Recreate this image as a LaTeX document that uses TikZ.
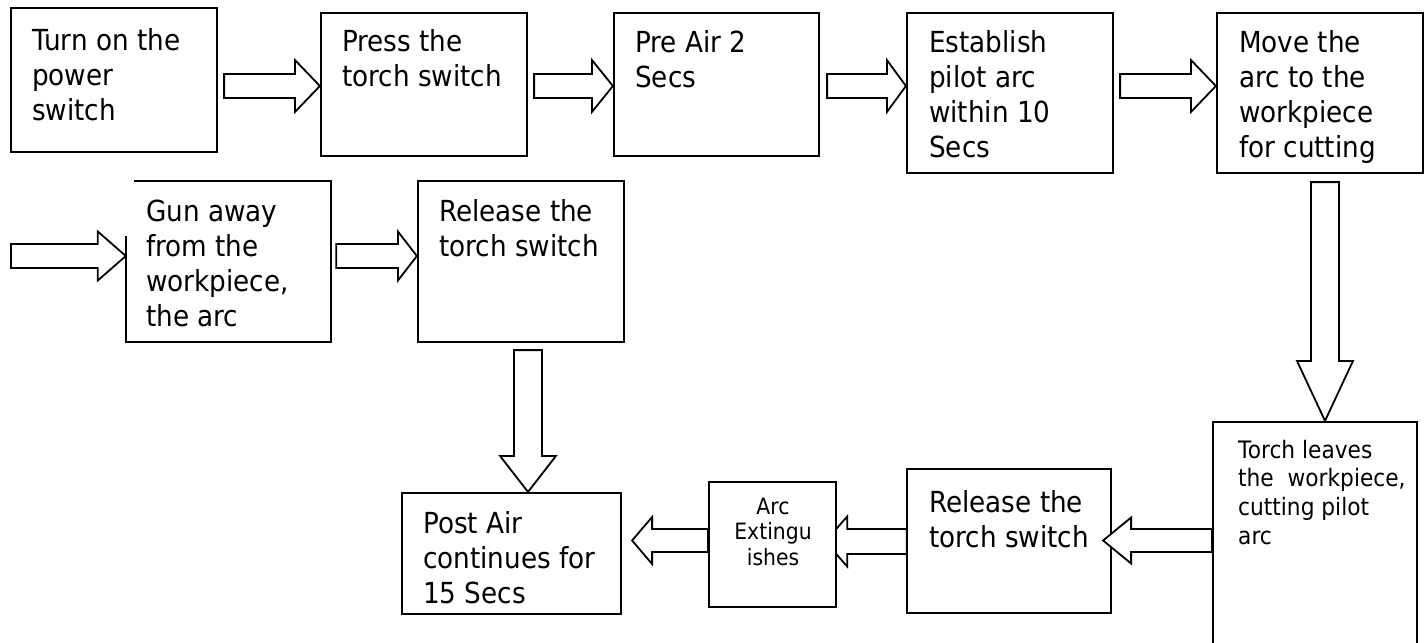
\documentclass[tikz,border=0pt]{standalone}
\usepackage{fontspec}
\setmainfont{DejaVu Sans}[FakeStretch=0.905]
\usetikzlibrary{calc,fit}

% hollow block arrow: tail, tip, shaft half width, head half width, head length
\newcommand{\blockarrow}[5]{%
  \coordinate (hb) at ($(#2)!#5pt!(#1)$);
  \draw[arrowbody] ($(#1)!#3pt!90:(#2)$) -- ($(hb)!#3pt!90:(#2)$)
    -- ($(hb)!#4pt!90:(#2)$) -- (#2) -- ($(hb)!#4pt!-90:(#2)$)
    -- ($(hb)!#3pt!-90:(#2)$) -- ($(#1)!#3pt!-90:(#2)$) -- cycle;}

% text nodes are placed by the baseline of their last line
\tikzset{
  stepbox/.style={draw=black, line width=2.2pt, fill=white, inner sep=0pt, rectangle},
  framebox/.style={inner sep=0pt, rectangle},
  outline/.style={draw=black, line width=2.2pt},
  arrowbody/.style={draw=black, line width=1.8pt, fill=white, line join=miter},
  txt/.style={inner sep=0pt, align=left, anchor=base west,
              font=\fontsize{29}{35}\selectfont},
  smalltxt/.style={inner sep=0pt, align=left, anchor=base west,
              font=\fontsize{24}{28.6}\selectfont},
  tinytxt/.style={inner sep=0pt, align=center, anchor=base,
              font=\fontsize{22.5}{25.5}\selectfont},
}

\begin{document}
\begin{tikzpicture}[x=1pt, y=-1pt]
\useasboundingbox (0,0) rectangle (1428,643);
\clip (0,0) rectangle (1428,643);
\fill[white] (0,0) rectangle (1428,643);

% this arrow runs under the "Arc Extinguishes" box
\node[framebox, fit={(907,469) (1111,613)}] (b10pos) {};
\node[framebox, fit={(709,482) (836,607)}] (b9pos) {};
\coordinate (a9s) at (b10pos.west |- 0,541.5);
\coordinate (a9e) at ($(b9pos.east |- 0,541.5)+(-11,0)$);
\blockarrow{a9s}{a9e}{12.5}{25}{22}

% first row
\node[stepbox, fit={(11,8) (217,152)}] (b1) {};
\node[stepbox, fit={(321,13) (527,156)}] (b2) {};
\node[stepbox, fit={(614,13) (819,156)}] (b3) {};
\node[stepbox, fit={(907,13) (1113,173)}] (b4) {};
\node[stepbox, fit={(1217,13) (1423,173)}] (b5) {};

% second row
\node[framebox, fit={(126,181) (331,342)}] (b6) {};
\draw[outline] ($(b6.north west)+(8,0)$) -- (b6.north east) -- (b6.south east)
  -- (b6.south west) -- ($(b6.north west)+(0,55)$);
\node[stepbox, fit={(418,181) (624,342)}] (b7) {};

% lower row
\node[stepbox, fit={(402,493) (621,614)}] (b8) {};
\node[stepbox, fit={(709,482) (836,607)}] (b9) {};
\node[stepbox, fit={(907,469) (1111,613)}] (b10) {};
\node[stepbox, fit={(1213,422) (1417,660)}] (b11) {};

% texts
\node[txt] (t1) at (32,120) {Turn on the\\power\\switch};
\node[txt] (t2) at (342,86) {Press the\\torch switch};
\node[txt] (t3) at (635,87) {Pre Air 2\\Secs};
\node[txt] (t4) at (929,157) {Establish\\pilot arc\\within 10\\Secs};
\node[txt] (t5) at (1239,157) {Move the\\arc to the\\workpiece\\for cutting};
\node[txt] (t6) at (146,326) {Gun away\\from the\\workpiece,\\the arc};
\node[txt] (t7) at (439,256) {Release the\\torch switch};
\node[txt] (t8) at (423,603) {Post Air\\continues for\\15 Secs};
\node[tinytxt] (t9) at (773,565) {Arc\\Extingu\\ishes};
\node[txt] (t10) at (929,547) {Release the\\torch switch};
\node[smalltxt] (t11) at (1238,544) {Torch leaves\\the\ \ workpiece,\\cutting pilot\\arc};

% connectors of the first row
\coordinate (a1s) at ($(b1.east |- 0,86)+(6,0)$);
\coordinate (a1e) at (b2.west |- 0,86);
\blockarrow{a1s}{a1e}{12}{26}{25}
\coordinate (a2s) at ($(b2.east |- 0,86)+(6,0)$);
\coordinate (a2e) at (b3.west |- 0,86);
\blockarrow{a2s}{a2e}{12}{26}{21}
\coordinate (a3s) at ($(b3.east |- 0,86)+(7,0)$);
\coordinate (a3e) at (b4.west |- 0,86);
\blockarrow{a3s}{a3e}{12}{26}{19}
\coordinate (a4s) at ($(b4.east |- 0,86)+(6,0)$);
\coordinate (a4e) at (b5.west |- 0,86);
\blockarrow{a4s}{a4e}{12}{26}{25}

% down the right side
\coordinate (a5s) at ($(b5.south -| 1325,0)+(0,8)$);
\coordinate (a5e) at (b11.north -| 1325,0);
\blockarrow{a5s}{a5e}{14}{28}{60}

% second row
\coordinate (a0s) at (11,256);
\coordinate (a0e) at (b6.west |- 0,256);
\blockarrow{a0s}{a0e}{12}{24.5}{28}
\coordinate (a6s) at ($(b6.east |- 0,256)+(5,0)$);
\coordinate (a6e) at (b7.west |- 0,256);
\blockarrow{a6s}{a6e}{12}{24.5}{19}

% down to Post Air
\coordinate (a7s) at ($(b7.south -| 528,0)+(0,7)$);
\coordinate (a7e) at (b8.north -| 528,0);
\blockarrow{a7s}{a7e}{14}{28}{36}

% lower row, right to left
\coordinate (a8s) at (b11.west |- 0,540.5);
\coordinate (a8e) at ($(b10.east |- 0,540.5)+(-9,0)$);
\blockarrow{a8s}{a8e}{11.5}{23}{28}
\coordinate (a10s) at (b9.west |- 0,540.5);
\coordinate (a10e) at ($(b8.east |- 0,540.5)+(10,0)$);
\blockarrow{a10s}{a10e}{11.5}{23.5}{20}
\end{tikzpicture}
\end{document}
